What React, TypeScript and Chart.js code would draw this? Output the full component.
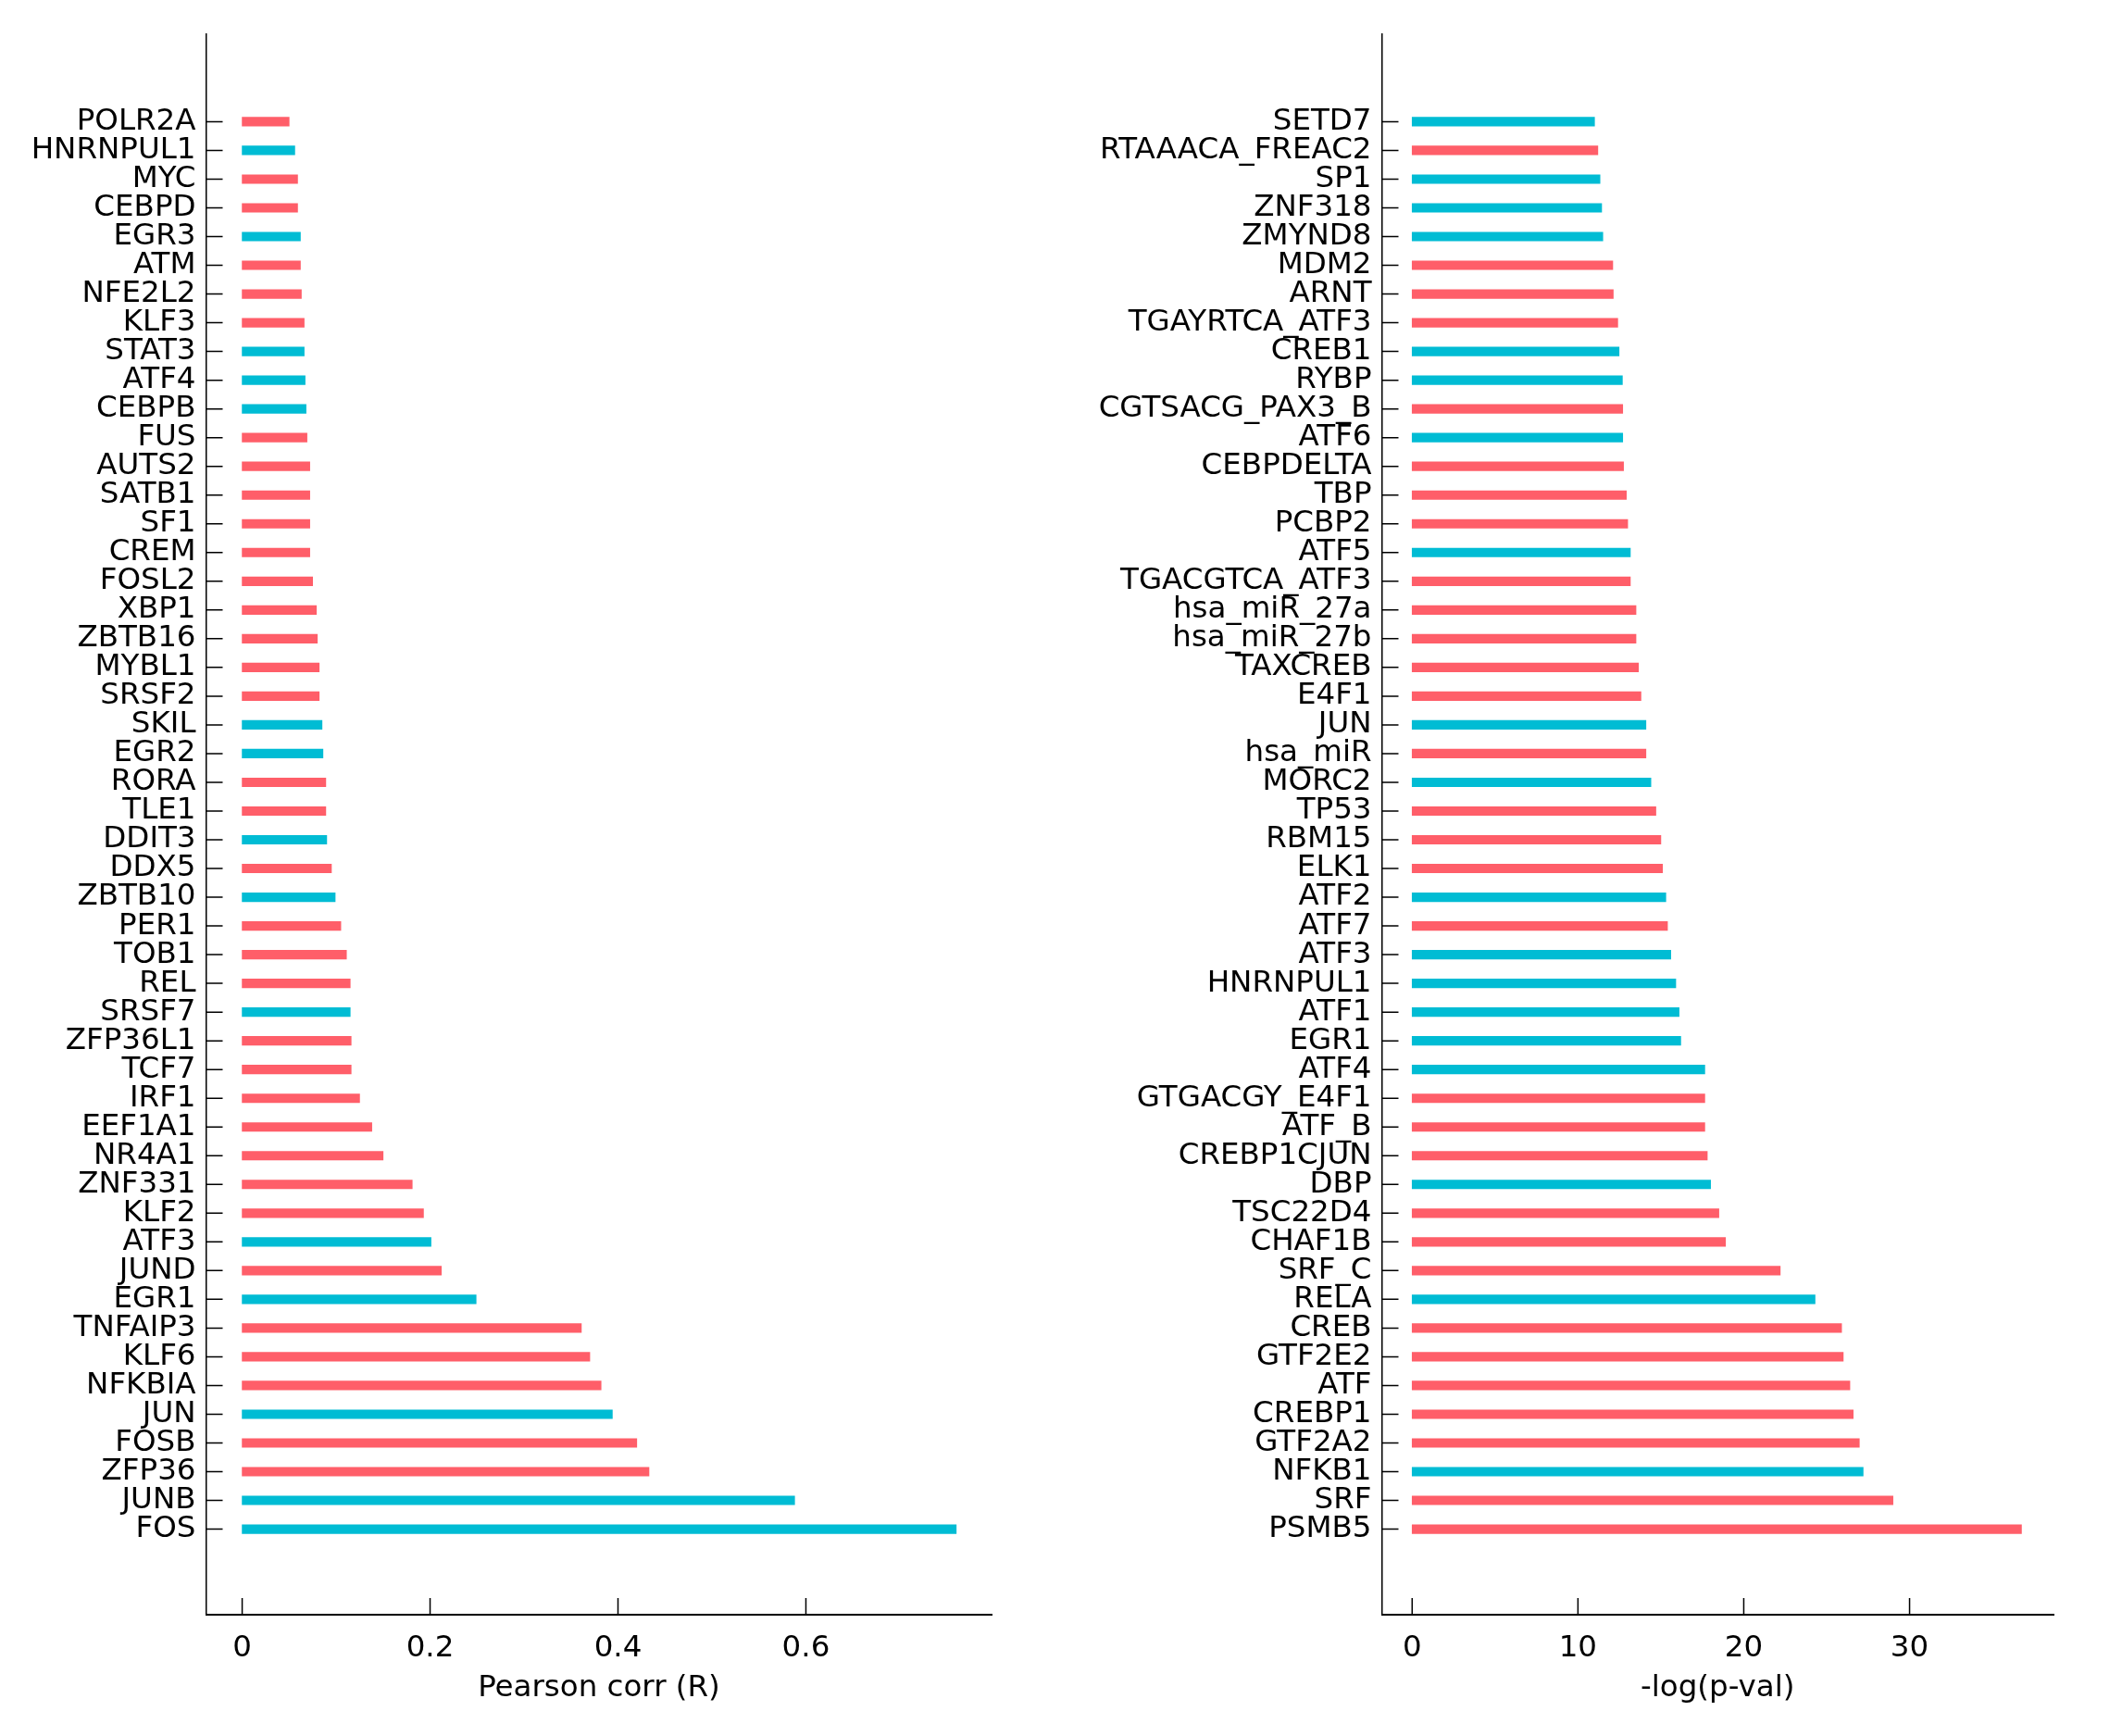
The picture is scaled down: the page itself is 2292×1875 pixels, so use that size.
import React, { useEffect, useRef } from 'react';
import { Chart, registerables } from 'chart.js';

Chart.register(...registerables);

const FONT_FAMILY = "'DejaVu Sans', 'Liberation Sans', sans-serif";
const RED = '#FF5E69';
const CYAN = '#00BCD4';

// ---------- Left panel: Pearson correlation ----------
const corrLabels = [
  'POLR2A', 'HNRNPUL1', 'MYC', 'CEBPD', 'EGR3', 'ATM', 'NFE2L2', 'KLF3', 'STAT3', 'ATF4',
  'CEBPB', 'FUS', 'AUTS2', 'SATB1', 'SF1', 'CREM', 'FOSL2', 'XBP1', 'ZBTB16', 'MYBL1',
  'SRSF2', 'SKIL', 'EGR2', 'RORA', 'TLE1', 'DDIT3', 'DDX5', 'ZBTB10', 'PER1', 'TOB1',
  'REL', 'SRSF7', 'ZFP36L1', 'TCF7', 'IRF1', 'EEF1A1', 'NR4A1', 'ZNF331', 'KLF2', 'ATF3',
  'JUND', 'EGR1', 'TNFAIP3', 'KLF6', 'NFKBIA', 'JUN', 'FOSB', 'ZFP36', 'JUNB', 'FOS',
];
const corrValues = [
  0.050, 0.056, 0.059, 0.059, 0.062, 0.062, 0.063, 0.066, 0.066, 0.067,
  0.068, 0.069, 0.072, 0.072, 0.072, 0.072, 0.075, 0.079, 0.080, 0.082,
  0.082, 0.085, 0.086, 0.089, 0.089, 0.090, 0.095, 0.099, 0.105, 0.111,
  0.115, 0.115, 0.116, 0.116, 0.125, 0.138, 0.150, 0.181, 0.193, 0.201,
  0.212, 0.249, 0.361, 0.370, 0.382, 0.394, 0.420, 0.433, 0.588, 0.760,
];
// 1 = cyan, 0 = red
const corrGroup = [
  0, 1, 0, 0, 1, 0, 0, 0, 1, 1,
  1, 0, 0, 0, 0, 0, 0, 0, 0, 0,
  0, 1, 1, 0, 0, 1, 0, 1, 0, 0,
  0, 1, 0, 0, 0, 0, 0, 0, 0, 1,
  0, 1, 0, 0, 0, 1, 0, 0, 1, 1,
];
const corrTicks = [0, 0.2, 0.4, 0.6];

// ---------- Right panel: -log(p-val) ----------
const pvalLabels = [
  'SETD7', 'RTAAACA_FREAC2', 'SP1', 'ZNF318', 'ZMYND8', 'MDM2', 'ARNT', 'TGAYRTCA_ATF3', 'CREB1', 'RYBP',
  'CGTSACG_PAX3_B', 'ATF6', 'CEBPDELTA', 'TBP', 'PCBP2', 'ATF5', 'TGACGTCA_ATF3', 'hsa_miR_27a', 'hsa_miR_27b', 'TAXCREB',
  'E4F1', 'JUN', 'hsa_miR', 'MORC2', 'TP53', 'RBM15', 'ELK1', 'ATF2', 'ATF7', 'ATF3',
  'HNRNPUL1', 'ATF1', 'EGR1', 'ATF4', 'GTGACGY_E4F1', 'ATF_B', 'CREBP1CJUN', 'DBP', 'TSC22D4', 'CHAF1B',
  'SRF_C', 'RELA', 'CREB', 'GTF2E2', 'ATF', 'CREBP1', 'GTF2A2', 'NFKB1', 'SRF', 'PSMB5',
];
const pvalValues = [
  11.0, 11.2, 11.33, 11.43, 11.5, 12.1, 12.13, 12.4, 12.48, 12.68,
  12.7, 12.7, 12.75, 12.92, 13.0, 13.16, 13.16, 13.5, 13.5, 13.65,
  13.8, 14.1, 14.1, 14.4, 14.7, 15.0, 15.1, 15.3, 15.4, 15.6,
  15.9, 16.1, 16.2, 17.65, 17.65, 17.65, 17.8, 18.0, 18.5, 18.9,
  22.2, 24.3, 25.9, 26.0, 26.4, 26.6, 26.97, 27.2, 29.0, 36.75,
];
const pvalGroup = [
  1, 0, 1, 1, 1, 0, 0, 0, 1, 1,
  0, 1, 0, 0, 0, 1, 0, 0, 0, 0,
  0, 1, 0, 1, 0, 0, 0, 1, 0, 1,
  1, 1, 1, 1, 0, 0, 0, 1, 0, 0,
  0, 1, 0, 0, 0, 0, 0, 1, 0, 0,
];
const pvalTicks = [0, 10, 20, 30];

const inwardTicks = {
  id: 'inwardTicks',
  afterDatasetsDraw(chart: any) {
    const { ctx, chartArea, scales } = chart;
    const x = scales.x;
    const y = scales.y;
    ctx.save();
    ctx.strokeStyle = '#000';
    ctx.lineWidth = 1.5;
    ctx.beginPath();
    x.ticks.forEach((t: any) => {
      const px = x.getPixelForValue(t.value);
      ctx.moveTo(px, chartArea.bottom);
      ctx.lineTo(px, chartArea.bottom - 18);
    });
    y.ticks.forEach((t: any) => {
      const py = y.getPixelForValue(t.value);
      ctx.moveTo(chartArea.left, py);
      ctx.lineTo(chartArea.left + 18, py);
    });
    ctx.stroke();
    ctx.restore();
  },
};

function makeConfig(
  labels: string[],
  values: number[],
  groups: number[],
  xTicks: number[],
  xMin: number,
  xMax: number,
  title: string,
  yWidth: number,
  rightPad: number,
): any {
  const font = { family: FONT_FAMILY, size: 32.5 };
  return {
    type: 'bar',
    data: {
      datasets: [
        {
          data: values.map((v, i) => ({ x: v, y: i })),
          backgroundColor: groups.map((g) => (g ? CYAN : RED)),
          borderWidth: 0,
          barThickness: 9.5,
        },
      ],
    },
    options: {
      indexAxis: 'y',
      responsive: false,
      maintainAspectRatio: false,
      animation: false,
      layout: { padding: { top: 36.5, right: rightPad, bottom: 0, left: 0 } },
      plugins: { legend: { display: false }, tooltip: { enabled: false } },
      scales: {
        x: {
          type: 'linear',
          position: 'bottom',
          min: xMin,
          max: xMax,
          offset: false,
          grid: { display: false, drawTicks: false, tickLength: 0 },
          border: { display: true, color: '#000', width: 2 },
          afterBuildTicks: (s: any) => {
            s.ticks = xTicks.map((v) => ({ value: v }));
          },
          afterFit: (s: any) => {
            s.height = 131;
          },
          ticks: {
            font,
            color: '#000',
            padding: 17,
            maxRotation: 0,
            callback: (v: any) => String(v),
          },
          title: {
            display: true,
            text: title,
            font,
            color: '#000',
            padding: { top: 0, bottom: 32 },
          },
        },
        y: {
          type: 'linear',
          position: 'left',
          reverse: true,
          offset: false,
          min: -3.06,
          max: 51.98,
          grid: { display: false, drawTicks: false, tickLength: 0 },
          border: { display: true, color: '#000', width: 1.5 },
          afterBuildTicks: (s: any) => {
            s.ticks = labels.map((_, i) => ({ value: i }));
          },
          afterFit: (s: any) => {
            s.width = yWidth;
          },
          ticks: {
            font,
            color: '#000',
            padding: 11,
            autoSkip: false,
            callback: (v: any) => labels[v] ?? '',
          },
        },
      },
    },
    plugins: [inwardTicks],
  };
}

function Panel(props: { config: any; left: number; width: number }) {
  const ref = useRef<HTMLCanvasElement | null>(null);
  useEffect(() => {
    if (!ref.current) return;
    const chart = new Chart(ref.current, props.config);
    return () => chart.destroy();
  }, []);
  return (
    <canvas
      ref={ref}
      width={props.width}
      height={1875}
      style={{
        position: 'absolute',
        left: props.left,
        top: 0,
        width: props.width,
        height: 1875,
        display: 'block',
      }}
    />
  );
}

export default function App() {
  const leftCfg = makeConfig(corrLabels, corrValues, corrGroup, corrTicks, -0.0385, 0.798, 'Pearson corr (R)', 222.5, 28.6);
  const rightCfg = makeConfig(pvalLabels, pvalValues, pvalGroup, pvalTicks, -1.83, 38.68, '-log(p-val)', 392.5, 74);
  return (
    <div style={{ position: 'absolute', left: 0, top: 0, width: 2292, height: 1875, background: '#fff', overflow: 'hidden' }}>
      <Panel config={leftCfg} left={0} width={1100} />
      <Panel config={rightCfg} left={1100} width={1192} />
    </div>
  );
}
